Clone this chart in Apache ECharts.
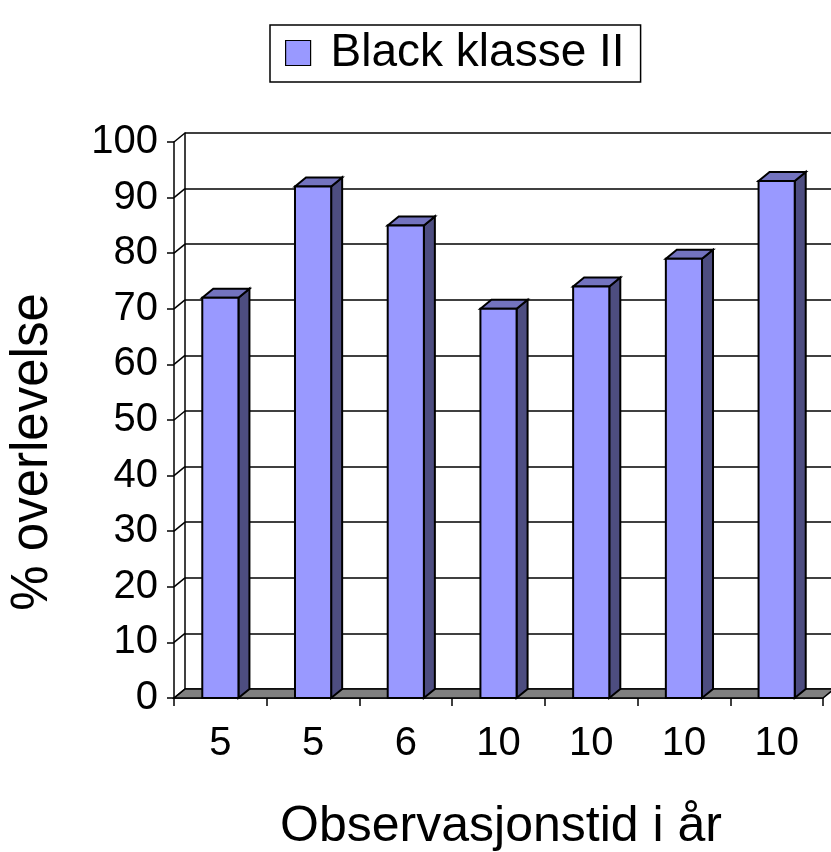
<!DOCTYPE html>
<html>
<head>
<meta charset="utf-8">
<script src="https://cdn.jsdelivr.net/npm/echarts@6/dist/echarts.min.js"></script>
<style>
  html, body { margin: 0; padding: 0; background: #fff; }
  #chart { width: 831px; height: 852px; }
</style>
</head>
<body>
<div id="chart"></div>
<script>
// Observation time (years) for each study
const categories = ['5', '5', '6', '10', '10', '10', '10'];
// Survival percentage, Black class II
const survival = [72, 92, 85, 70, 74, 79, 93];
// Value-axis ticks
const yTicks = [0, 10, 20, 30, 40, 50, 60, 70, 80, 90, 100];
const seriesName = 'Black klasse II';

const FONT = "'Liberation Sans', Arial, sans-serif";
// Depth offset of the pseudo-3D box (back wall vs. front plane)
const DX = 11, DY = 9;
const PLOT = { left: 174, top: 142, width: 649, height: 556 };

const chart = echarts.init(document.getElementById('chart'), null, { renderer: 'canvas' });

function floorItem(params, api) {
  const r = params.coordSys;
  const yb = r.y + r.height;
  return {
    type: 'polygon',
    shape: { points: [[r.x, yb], [r.x + r.width, yb], [r.x + r.width + DX, yb - DY], [r.x + DX, yb - DY]] },
    style: { fill: '#808080', stroke: '#000', lineWidth: 1.5 }
  };
}

function connectorItem(params, api) {
  const r = params.coordSys;
  const y = api.coord([0, api.value(0)])[1];
  return {
    type: 'line',
    shape: { x1: r.x, y1: y, x2: r.x + DX, y2: y - DY },
    style: { stroke: '#000', lineWidth: 1.5 }
  };
}

function barItem(params, api) {
  const cx = api.coord([api.value(0), 0])[0];
  const yTop = api.coord([api.value(0), api.value(1)])[1];
  const y0 = api.coord([api.value(0), 0])[1];
  const bw = api.size([1, 0])[0] * 0.39;
  const x0 = cx - bw / 2, x1 = cx + bw / 2;
  const edge = { stroke: '#000', lineWidth: 2, lineJoin: 'miter' };
  return {
    type: 'group',
    children: [
      { type: 'polygon', shape: { points: [[x1, yTop], [x1 + DX, yTop - DY], [x1 + DX, y0 - DY], [x1, y0]] },
        style: Object.assign({ fill: '#4D4D80' }, edge) },
      { type: 'polygon', shape: { points: [[x0, yTop], [x0 + DX, yTop - DY], [x1 + DX, yTop - DY], [x1, yTop]] },
        style: Object.assign({ fill: '#7373BF' }, edge) },
      { type: 'rect', shape: { x: x0, y: yTop, width: bw, height: y0 - yTop },
        style: Object.assign({ fill: '#9999FF' }, edge) }
    ]
  };
}

const option = {
  animation: false,
  backgroundColor: '#ffffff',
  textStyle: { fontFamily: FONT, color: '#000' },
  legend: {
    data: [{ name: seriesName, itemStyle: { color: '#9999FF', borderColor: '#000', borderWidth: 1.2 } }],
    left: 270, top: 25,
    padding: [5, 16, 6, 15],
    icon: 'rect',
    itemWidth: 25, itemHeight: 25,
    borderColor: '#000', borderWidth: 1.5,
    selectedMode: false,
    textStyle: { fontFamily: FONT, fontSize: 46, lineHeight: 46, color: '#000', padding: [0, 0, 0, 15] }
  },
  grid: [
    { left: PLOT.left, top: PLOT.top, width: PLOT.width, height: PLOT.height, containLabel: false },
    { left: PLOT.left + DX, top: PLOT.top - DY, width: PLOT.width, height: PLOT.height, containLabel: false }
  ],
  xAxis: [
    {
      type: 'category', gridIndex: 0, data: categories, boundaryGap: true,
      axisLine: { show: true, lineStyle: { color: '#000', width: 1.5 } },
      axisTick: { show: true, length: 8, lineStyle: { color: '#000', width: 1.5 } },
      axisLabel: { fontFamily: FONT, fontSize: 40, color: '#000', margin: 26 },
      splitLine: { show: false }
    },
    {
      type: 'category', gridIndex: 1, data: categories, boundaryGap: true,
      axisLine: { show: false }, axisTick: { show: false }, axisLabel: { show: false },
      splitLine: { show: false }
    }
  ],
  yAxis: [
    {
      type: 'value', gridIndex: 0, min: 0, max: 100, interval: 10,
      axisLine: { show: true, lineStyle: { color: '#000', width: 1.5 } },
      axisTick: { show: true, length: 7, lineStyle: { color: '#000', width: 1.5 } },
      axisLabel: { fontFamily: FONT, fontSize: 40, color: '#000', margin: 16 },
      splitLine: { show: false }
    },
    {
      type: 'value', gridIndex: 1, min: 0, max: 100, interval: 10,
      axisLine: { show: true, lineStyle: { color: '#000', width: 1.5 } },
      axisTick: { show: false }, axisLabel: { show: false },
      splitLine: { show: true, lineStyle: { color: '#000', width: 1.5 } }
    }
  ],
  graphic: [
    {
      type: 'text', x: 501, y: 802,
      style: { text: 'Observasjonstid i år', font: '50px ' + FONT, fill: '#000', align: 'center', verticalAlign: 'top' }
    },
    {
      type: 'text', x: 33, y: 452, rotation: Math.PI / 2,
      style: { text: '% overlevelse', font: '51px ' + FONT, fill: '#000', align: 'center', verticalAlign: 'middle' }
    }
  ],
  series: [
    {
      name: 'floor', type: 'custom', xAxisIndex: 0, yAxisIndex: 0, silent: true, z: 1,
      renderItem: floorItem, data: [[0]]
    },
    {
      name: 'connectors', type: 'custom', xAxisIndex: 0, yAxisIndex: 0, silent: true, z: 1,
      renderItem: connectorItem, data: yTicks.map(v => [v])
    },
    {
      name: seriesName, type: 'custom', xAxisIndex: 0, yAxisIndex: 0, z: 3,
      itemStyle: { color: '#9999FF' },
      encode: { x: 0, y: 1 },
      renderItem: barItem,
      data: survival.map((v, i) => [i, v])
    }
  ]
};

chart.setOption(option);
</script>
</body>
</html>
